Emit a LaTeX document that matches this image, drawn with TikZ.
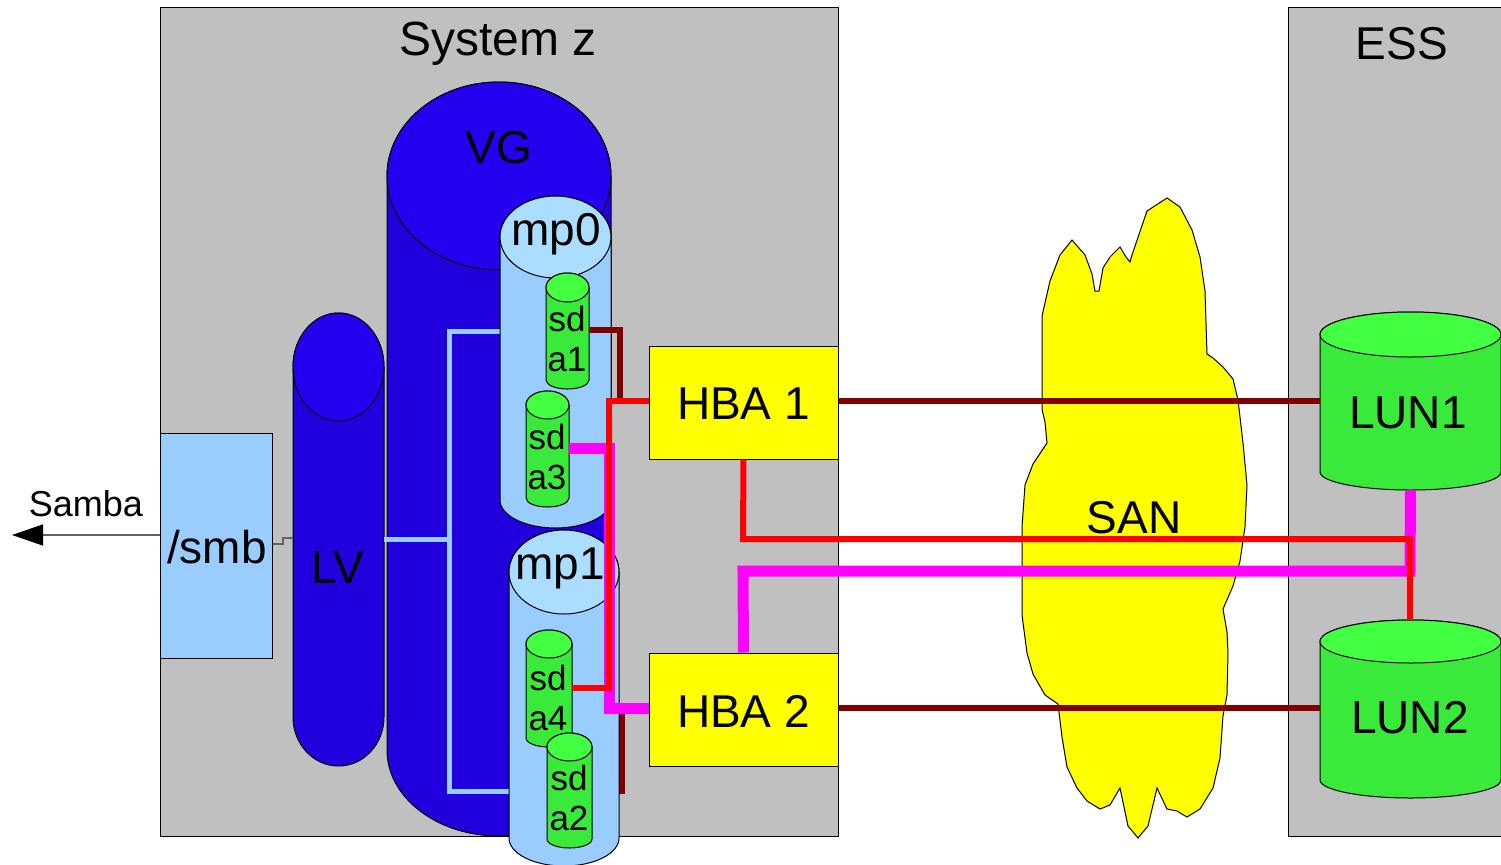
\documentclass[tikz,border=0pt]{standalone}
\usepackage{fontspec}
\setmainfont{Liberation Sans}
\usetikzlibrary{arrows.meta}
\definecolor{boxgray}{RGB}{192,192,192}
\definecolor{vgbody}{RGB}{34,0,221}
\definecolor{vgtop}{RGB}{36,0,238}
\definecolor{ltblue}{RGB}{153,204,255}
\definecolor{mptop}{RGB}{170,221,255}
\definecolor{grbody}{RGB}{58,234,58}
\definecolor{grtop}{RGB}{66,255,66}
\definecolor{darkred}{RGB}{128,0,0}
\definecolor{purered}{RGB}{255,0,0}
\definecolor{puremag}{RGB}{255,0,255}
\definecolor{hbayellow}{RGB}{255,255,0}
\definecolor{linegray}{RGB}{100,100,100}
\tikzset{
  outl/.style={draw=black, line width=0.5pt},
  pbox/.style={outl, inner sep=0, rectangle},
  lbl/.style={inner sep=0, font=\fontsize{23}{27}\selectfont},
  sdl/.style={inner sep=0, align=center, font=\fontsize{17.5}{20}\selectfont},
  sambal/.style={inner sep=0, font=\fontsize{18}{21}\selectfont},
  drl/.style={draw=darkred, line width=3pt},
  redl/.style={draw=purered, line width=3pt},
  magl/.style={draw=puremag, line width=5.5pt},
  bluel/.style={draw=ltblue, line width=2.5pt},
  thinl/.style={draw=linegray, line width=0.6pt},
}
% name, left, right, top, top ry, bottom, bottom ry, body colour, top colour
\newcommand\mycyl[9]{%
  \pgfmathsetmacro\cylcx{(#2+#3)/2}%
  \pgfmathsetmacro\cylrx{(#3-#2)/2}%
  \pgfmathsetmacro\cylym{#4+#5}%
  \pgfmathsetmacro\cylyb{#6-#7}%
  \pgfmathsetmacro\cylcy{(#4+#6)/2}%
  \draw[outl, fill=#8] (#2,\cylym) -- (#2,\cylyb)
     arc[start angle=180, end angle=0, x radius=\cylrx, y radius=#7]
     -- (#3,\cylym)
     arc[start angle=0, end angle=-180, x radius=\cylrx, y radius=#5] -- cycle;
  \draw[outl, fill=#9] (\cylcx,\cylym) ellipse[x radius=\cylrx, y radius=#5];
  \node[inner sep=0, minimum width={(#3-#2)*0.5pt}, minimum height={(#6-#4)*0.5pt}] (#1) at (\cylcx,\cylcy) {};
}
\begin{document}
\begin{tikzpicture}[x=0.5pt, y=-0.5pt]
\useasboundingbox (0,0) rectangle (1501,864);
\clip (0,0) rectangle (1501,864);
\fill[white] (0,0) rectangle (1501,864);

% frames
\node[pbox, fill=boxgray, minimum width=339pt, minimum height=414.5pt] (sysz) at (499,421.5) {};
\node[lbl, font=\fontsize{24}{28}\selectfont] (syszl) at (498,44) {System z};
\node[pbox, fill=boxgray, minimum width=120pt, minimum height=414.5pt, anchor=north west] (ess) at (1288,7) {};
\node[lbl] (essl) at (1402,44) {ESS};

% SAN cloud
\draw[outl, fill=hbayellow] (1167,198) -- (1180,207) -- (1192,230) -- (1200,257) -- (1205,291) -- (1207,354)
 -- (1213,358) -- (1223,367) -- (1233,379) -- (1238,400) -- (1243,443) -- (1247,485) -- (1245,527)
 -- (1240,561) -- (1233,586) -- (1223,609) -- (1227,632) -- (1228,653) -- (1227,695) -- (1223,716)
 -- (1220,758) -- (1213,788) -- (1200,809) -- (1187,817) -- (1177,811) -- (1167,809) -- (1157,788)
 -- (1148,826) -- (1138,838) -- (1128,826) -- (1120,788) -- (1110,805) -- (1100,809) -- (1087,801)
 -- (1077,788) -- (1067,767) -- (1062,737) -- (1058,704) -- (1045,695) -- (1033,674) -- (1027,653)
 -- (1022,615) -- (1022,527) -- (1025,485) -- (1033,464) -- (1047,443) -- (1045,422) -- (1042,409)
 -- (1042,316) -- (1050,281) -- (1060,255) -- (1072,240) -- (1085,255) -- (1092,274) -- (1095,291)
 -- (1099,291) -- (1103,268) -- (1110,257) -- (1120,247) -- (1126,257) -- (1130,262) -- (1132,255)
 -- (1147,211) -- cycle;
\node[lbl] (sanl) at (1134,518) {SAN};

% LUNs
\mycyl{lun1}{1320}{1501}{312}{22.5}{490}{18}{grbody}{grtop}
\node[lbl] at (1408,413) {LUN1};
\mycyl{lun2}{1320}{1501}{620}{21.5}{798}{18}{grbody}{grtop}
\node[lbl] at (1410,718) {LUN2};

% VG and LV
\mycyl{vg}{387}{611}{82}{94}{836}{86}{vgbody}{vgtop}
\node[lbl] at (499,148) {VG};
\mycyl{lv}{293}{384}{313}{54}{766}{49}{vgbody}{vgtop}
\node[lbl] at (338,568) {LV};

% /smb
\node[pbox, fill=ltblue, minimum width=56pt, minimum height=112.5pt] (smb) at (216,545.5) {};
\node[lbl] at (217,547) {/smb};
\coordinate (sambaend) at (12,535);
\draw[thinl, -{Triangle[length=15.5pt, width=10.5pt, fill=black, color=black]}] (smb.west |- sambaend) -- (sambaend);
\node[sambal] at (86,504) {Samba};
\draw[thinl] (smb.east |- 0,544) -- (283,544) -- (283,538) -- (lv.west |- 0,538);

% bus lines from LV to multipath devices
\coordinate (bustop) at (449,331);
\coordinate (busbot) at (449,791);
\draw[bluel] (lv.east) -- (lv.east -| bustop);
\draw[bluel] (500,331) -- (bustop) -- (busbot) -- (510,791);

% dark red from sda2 (hidden behind mp1)
\coordinate (drb) at (622,791);
\draw[drl] (570,791) -- (drb) -- (622,708);

% multipath devices and disks
\mycyl{mp0}{500}{611}{196}{41}{528}{28}{ltblue}{mptop}
\node[lbl] at (556,234) {mp0};
\mycyl{mp1}{509}{619}{530}{42}{866}{28}{ltblue}{mptop}
\node[lbl] at (560,568) {mp1};
\mycyl{sda1}{546}{589}{273}{14.5}{389}{9}{grbody}{grtop}
\node[sdl] at (567,339) {sd\\a1};
\mycyl{sda3}{526}{569}{391}{14}{507}{9}{grbody}{grtop}
\node[sdl] at (547,457) {sd\\a3};
\mycyl{sda4}{526}{572}{630}{14}{747}{9}{grbody}{grtop}
\node[sdl] at (548,698) {sd\\a4};
\mycyl{sda2}{547}{592}{733}{14}{848}{9}{grbody}{grtop}
\node[sdl] at (569,798) {sd\\a2};

% HBAs
\node[pbox, fill=hbayellow, minimum width=94.5pt, minimum height=56.5pt] (hba1) at (743.5,402.5) {};
\node[lbl] at (743.5,404) {HBA 1};
\node[pbox, fill=hbayellow, minimum width=94.5pt, minimum height=56.5pt] (hba2) at (743.5,709.5) {};
\node[lbl] at (743.5,711) {HBA 2};

% dark red paths
\draw[drl] (sda1.east |- 0,330) -- (620,330) -- (620,401);
\draw[drl] (hba1.east |- lun1.west) -- (lun1.west);
\draw[drl] (hba2.east |- 0,708) -- (lun2.west |- 0,708);

% magenta paths
\draw[magl] (sda3.east |- 0,448) -- (609,448) -- (609,708) -- (hba2.west |- 0,708);
\draw[magl] (hba2.north) -- (743,571) -- (1410,571) -- (lun1.south);

% red paths
\draw[redl] (hba1.west |- 0,401) -- (609,401) -- (609,688) -- (sda4.east |- 0,688);
\draw[redl] (hba1.south) -- (743,539) -- (1410,539) -- (lun2.north -| 1410,0);
\end{tikzpicture}
\end{document}
